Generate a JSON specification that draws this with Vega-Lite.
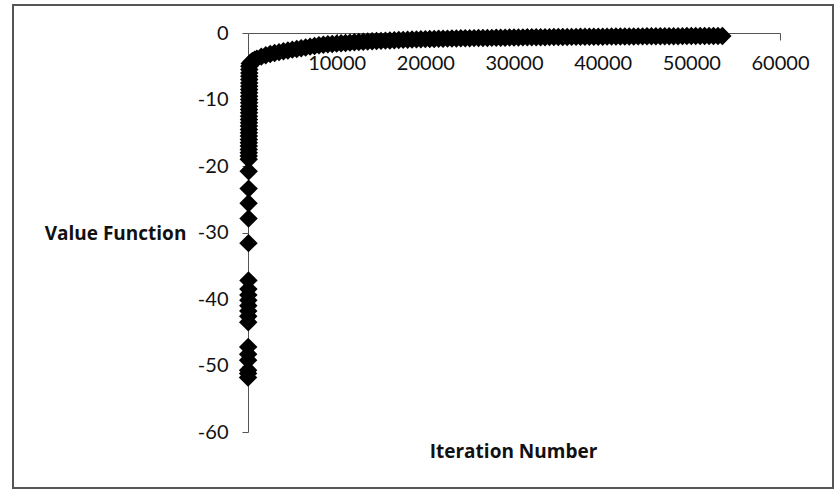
{
  "$schema": "https://vega.github.io/schema/vega-lite/v6.json",
  "width": 820,
  "height": 483,
  "autosize": {"type": "none"},
  "padding": {"left": 13, "top": 5, "right": 2, "bottom": 3},
  "background": "#ffffff",
  "config": {
    "view": {"stroke": "#555555", "strokeWidth": 2},
    "font": "Lato"
  },
  "data": {
    "values": [
      {"iteration": 5, "value": -51.8},
      {"iteration": 10, "value": -51.2},
      {"iteration": 12, "value": -50.7},
      {"iteration": 15, "value": -49.2},
      {"iteration": 18, "value": -48.3},
      {"iteration": 20, "value": -47.2},
      {"iteration": 25, "value": -43.5},
      {"iteration": 28, "value": -42.6},
      {"iteration": 30, "value": -41.8},
      {"iteration": 35, "value": -41.0},
      {"iteration": 38, "value": -40.2},
      {"iteration": 40, "value": -39.4},
      {"iteration": 45, "value": -38.5},
      {"iteration": 50, "value": -37.2},
      {"iteration": 55, "value": -31.6},
      {"iteration": 60, "value": -27.9},
      {"iteration": 65, "value": -25.6},
      {"iteration": 70, "value": -23.4},
      {"iteration": 75, "value": -20.8},
      {"iteration": 80, "value": -19.0},
      {"iteration": 82, "value": -18.5},
      {"iteration": 85, "value": -18.0},
      {"iteration": 87, "value": -17.5},
      {"iteration": 90, "value": -17.0},
      {"iteration": 92, "value": -16.5},
      {"iteration": 95, "value": -16.0},
      {"iteration": 97, "value": -15.5},
      {"iteration": 100, "value": -15.0},
      {"iteration": 102, "value": -14.5},
      {"iteration": 105, "value": -14.0},
      {"iteration": 107, "value": -13.5},
      {"iteration": 110, "value": -13.0},
      {"iteration": 112, "value": -12.5},
      {"iteration": 115, "value": -12.0},
      {"iteration": 117, "value": -11.5},
      {"iteration": 120, "value": -11.0},
      {"iteration": 122, "value": -10.5},
      {"iteration": 125, "value": -10.0},
      {"iteration": 127, "value": -9.5},
      {"iteration": 130, "value": -9.0},
      {"iteration": 132, "value": -8.5},
      {"iteration": 135, "value": -8.0},
      {"iteration": 137, "value": -7.5},
      {"iteration": 140, "value": -7.0},
      {"iteration": 142, "value": -6.5},
      {"iteration": 145, "value": -6.0},
      {"iteration": 147, "value": -5.5},
      {"iteration": 150, "value": -5.0},
      {"iteration": 200, "value": -4.6},
      {"iteration": 350, "value": -4.4},
      {"iteration": 500, "value": -4.2},
      {"iteration": 750, "value": -4.0},
      {"iteration": 1000, "value": -3.85},
      {"iteration": 1500, "value": -3.55},
      {"iteration": 2000, "value": -3.35},
      {"iteration": 2500, "value": -3.15},
      {"iteration": 3000, "value": -3.0},
      {"iteration": 3500, "value": -2.88},
      {"iteration": 4000, "value": -2.75},
      {"iteration": 4500, "value": -2.62},
      {"iteration": 5000, "value": -2.5},
      {"iteration": 5500, "value": -2.4},
      {"iteration": 6000, "value": -2.3},
      {"iteration": 6500, "value": -2.18},
      {"iteration": 7000, "value": -2.05},
      {"iteration": 7500, "value": -1.95},
      {"iteration": 8000, "value": -1.85},
      {"iteration": 8500, "value": -1.77},
      {"iteration": 9000, "value": -1.7},
      {"iteration": 9500, "value": -1.65},
      {"iteration": 10000, "value": -1.6},
      {"iteration": 10500, "value": -1.55},
      {"iteration": 11000, "value": -1.5},
      {"iteration": 11500, "value": -1.45},
      {"iteration": 12000, "value": -1.4},
      {"iteration": 12500, "value": -1.36},
      {"iteration": 13000, "value": -1.32},
      {"iteration": 13500, "value": -1.28},
      {"iteration": 14000, "value": -1.25},
      {"iteration": 14500, "value": -1.21},
      {"iteration": 15000, "value": -1.18},
      {"iteration": 15500, "value": -1.15},
      {"iteration": 16000, "value": -1.12},
      {"iteration": 16500, "value": -1.09},
      {"iteration": 17000, "value": -1.06},
      {"iteration": 17500, "value": -1.03},
      {"iteration": 18000, "value": -1.01},
      {"iteration": 18500, "value": -0.98},
      {"iteration": 19000, "value": -0.96},
      {"iteration": 19500, "value": -0.94},
      {"iteration": 20000, "value": -0.92},
      {"iteration": 20500, "value": -0.905},
      {"iteration": 21000, "value": -0.89},
      {"iteration": 21500, "value": -0.875},
      {"iteration": 22000, "value": -0.86},
      {"iteration": 22500, "value": -0.845},
      {"iteration": 23000, "value": -0.83},
      {"iteration": 23500, "value": -0.815},
      {"iteration": 24000, "value": -0.8},
      {"iteration": 24500, "value": -0.79},
      {"iteration": 25000, "value": -0.78},
      {"iteration": 25500, "value": -0.77},
      {"iteration": 26000, "value": -0.76},
      {"iteration": 26500, "value": -0.75},
      {"iteration": 27000, "value": -0.74},
      {"iteration": 27500, "value": -0.73},
      {"iteration": 28000, "value": -0.72},
      {"iteration": 28500, "value": -0.71},
      {"iteration": 29000, "value": -0.7},
      {"iteration": 29500, "value": -0.69},
      {"iteration": 30000, "value": -0.68},
      {"iteration": 30500, "value": -0.67},
      {"iteration": 31000, "value": -0.66},
      {"iteration": 31500, "value": -0.65},
      {"iteration": 32000, "value": -0.64},
      {"iteration": 32500, "value": -0.635},
      {"iteration": 33000, "value": -0.63},
      {"iteration": 33500, "value": -0.625},
      {"iteration": 34000, "value": -0.62},
      {"iteration": 34500, "value": -0.61},
      {"iteration": 35000, "value": -0.6},
      {"iteration": 35500, "value": -0.595},
      {"iteration": 36000, "value": -0.59},
      {"iteration": 36500, "value": -0.585},
      {"iteration": 37000, "value": -0.58},
      {"iteration": 37500, "value": -0.575},
      {"iteration": 38000, "value": -0.57},
      {"iteration": 38500, "value": -0.565},
      {"iteration": 39000, "value": -0.56},
      {"iteration": 39500, "value": -0.555},
      {"iteration": 40000, "value": -0.55},
      {"iteration": 40500, "value": -0.545},
      {"iteration": 41000, "value": -0.54},
      {"iteration": 41500, "value": -0.535},
      {"iteration": 42000, "value": -0.53},
      {"iteration": 42500, "value": -0.525},
      {"iteration": 43000, "value": -0.52},
      {"iteration": 43500, "value": -0.515},
      {"iteration": 44000, "value": -0.51},
      {"iteration": 44500, "value": -0.505},
      {"iteration": 45000, "value": -0.5},
      {"iteration": 45500, "value": -0.495},
      {"iteration": 46000, "value": -0.49},
      {"iteration": 46500, "value": -0.485},
      {"iteration": 47000, "value": -0.48},
      {"iteration": 47500, "value": -0.48},
      {"iteration": 48000, "value": -0.48},
      {"iteration": 48500, "value": -0.475},
      {"iteration": 49000, "value": -0.47},
      {"iteration": 49500, "value": -0.465},
      {"iteration": 50000, "value": -0.46},
      {"iteration": 50500, "value": -0.46},
      {"iteration": 51000, "value": -0.46},
      {"iteration": 51500, "value": -0.455},
      {"iteration": 52000, "value": -0.45},
      {"iteration": 52500, "value": -0.45},
      {"iteration": 53000, "value": -0.45},
      {"iteration": 53500, "value": -0.44}
    ]
  },
  "mark": {"type": "point", "shape": "diamond", "filled": true, "size": 340, "color": "#000000", "opacity": 1, "strokeWidth": 0},
  "encoding": {
    "x": {
      "field": "iteration",
      "type": "quantitative",
      "scale": {"domain": [0, 60000], "range": [235, 767], "nice": false, "zero": false},
      "axis": {
        "orient": "bottom",
        "offset": -455,
        "values": [10000, 20000, 30000, 40000, 50000, 60000],
        "format": "d",
        "labelOverlap": false,
        "labelFlush": false,
        "labelBound": false,
        "grid": false,
        "domainColor": "#555555",
        "domainWidth": 1,
        "tickColor": "#555555",
        "tickSize": 7,
        "labelFont": "Lato",
        "labelFontSize": 20,
        "labelColor": "#111111",
        "labelPadding": 13,
        "title": "Iteration Number",
        "titleFont": "Open Sans",
        "titleFontSize": 19,
        "titleFontWeight": "bold",
        "titleColor": "#111111",
        "titleX": 500,
        "titleY": 418,
        "titleAlign": "center",
        "titleBaseline": "middle",
        "titleAnchor": null
      }
    },
    "y": {
      "field": "value",
      "type": "quantitative",
      "scale": {"domain": [-60, 0], "range": [427, 28], "nice": false, "zero": false},
      "axis": {
        "orient": "left",
        "offset": -235,
        "values": [-60, -50, -40, -30, -20, -10, 0],
        "labelExpr": "'' + datum.value",
        "labelOverlap": false,
        "labelFlush": false,
        "grid": false,
        "domainColor": "#555555",
        "domainWidth": 1,
        "tickColor": "#555555",
        "tickSize": 6,
        "labelFont": "Lato",
        "labelFontSize": 20,
        "labelColor": "#111111",
        "labelPadding": 14,
        "title": "Value Function",
        "titleFont": "Open Sans",
        "titleFontSize": 19,
        "titleFontWeight": "bold",
        "titleColor": "#111111",
        "titleAngle": 0,
        "titleX": -133,
        "titleY": 228,
        "titleAlign": "center",
        "titleBaseline": "middle",
        "titleAnchor": null
      }
    }
  }
}
